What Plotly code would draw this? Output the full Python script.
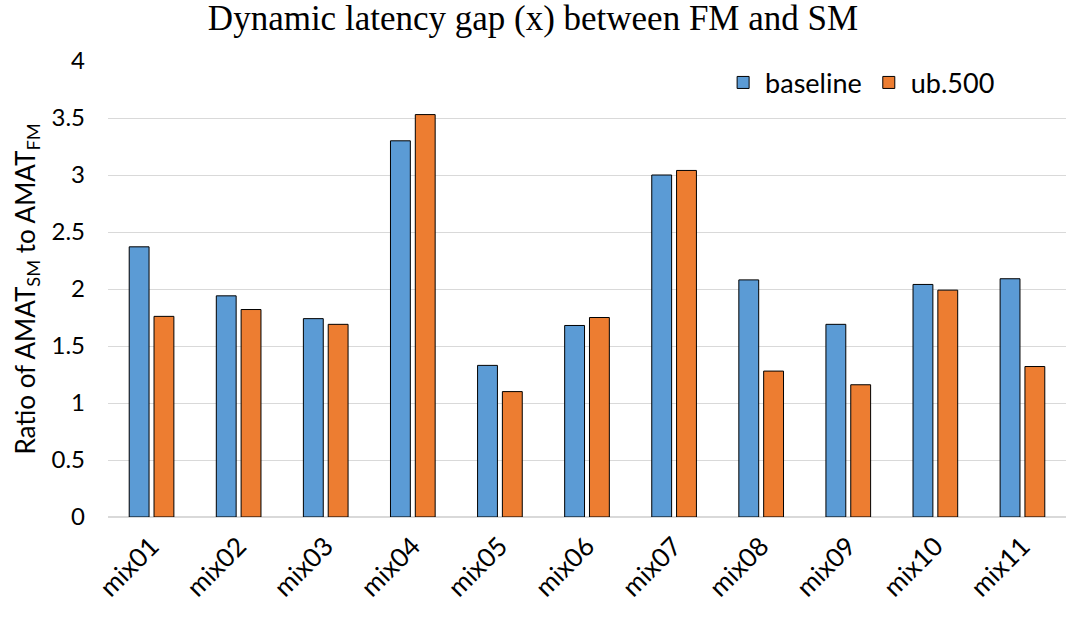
import plotly.graph_objects as go

categories = ["mix01", "mix02", "mix03", "mix04", "mix05", "mix06",
              "mix07", "mix08", "mix09", "mix10", "mix11"]
baseline = [2.37, 1.94, 1.74, 3.30, 1.33, 1.68, 3.00, 2.08, 1.69, 2.04, 2.09]
ub500 = [1.76, 1.82, 1.69, 3.53, 1.10, 1.75, 3.04, 1.28, 1.16, 1.99, 1.32]
yticks = [0, 0.5, 1, 1.5, 2, 2.5, 3, 3.5, 4]
ytick_text = ["0", "0.5", "1", "1.5", "2", "2.5", "3", "3.5", "4"]

font_sans = "Lato, 'Open Sans', sans-serif"

fig = go.Figure()
fig.add_trace(go.Bar(name="baseline", x=categories, y=baseline,
                     marker=dict(color="#5B9BD5", line=dict(color="#000000", width=1))))
fig.add_trace(go.Bar(name="ub.500", x=categories, y=ub500,
                     marker=dict(color="#ED7D31", line=dict(color="#000000", width=1))))

fig.update_layout(
    width=1066, height=617,
    paper_bgcolor="white", plot_bgcolor="white",
    margin=dict(l=108, r=0, t=61, b=100),
    barmode="group", bargap=0.43, bargroupgap=0.2,
    title=dict(text="Dynamic latency gap (x) between FM and SM",
               font=dict(family="'Liberation Serif', 'Times New Roman', serif", size=35, color="#000000"),
               x=0.5, xanchor="center", y=0.972, yanchor="middle"),
    legend=dict(orientation="h", x=0.64, y=0.952, xanchor="left", yanchor="middle",
                font=dict(family=font_sans, size=27, color="#000000"),
                bgcolor="rgba(0,0,0,0)", itemwidth=34, traceorder="normal"),
    xaxis=dict(tickangle=-45, tickfont=dict(family=font_sans, size=26, color="#000000"),
               showline=False, showgrid=False, ticks="", ticklabelstandoff=8),
    yaxis=dict(range=[0, 4], tickvals=yticks, ticktext=ytick_text,
               tickfont=dict(family=font_sans, size=24, color="#000000"),
               showgrid=True, gridcolor="#D9D9D9", gridwidth=1.3,
               zeroline=True, zerolinecolor="#D9D9D9", zerolinewidth=1.5,
               ticklabelstandoff=22,
               title=dict(text="Ratio of AMAT<sub>SM</sub> to AMAT<sub>FM</sub>",
                          font=dict(family=font_sans, size=26, color="#000000"),
                          standoff=8)),
)

fig.write_html("out.html")
